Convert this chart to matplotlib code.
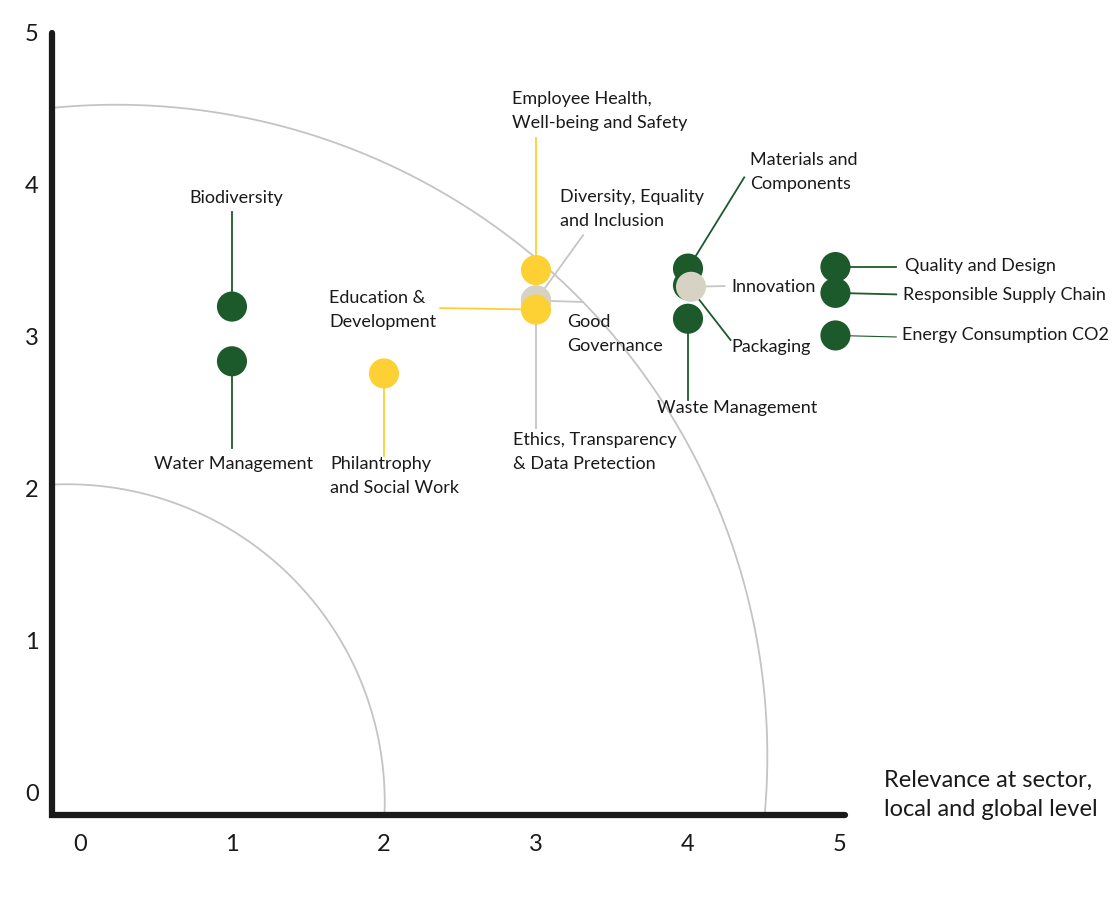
import numpy as np
import matplotlib.pyplot as plt

plt.rcParams['font.family'] = ['Lato', 'DejaVu Sans']

# topics: relevance (x), importance (y), group colour
topics = ['Biodiversity', 'Water Management', 'Philantrophy\nand Social Work',
          'Employee Health,\nWell-being and Safety', 'Diversity, Equality\nand Inclusion',
          'Good\nGovernance', 'Ethics, Transparency\n& Data Pretection',
          'Education &\nDevelopment', 'Materials and\nComponents', 'Packaging',
          'Innovation', 'Waste Management', 'Quality and Design',
          'Responsible Supply Chain', 'Energy Consumption CO2']
x_vals = [1.0, 1.0, 2.0, 3.0, 3.0, 3.0, 3.0, 3.0, 4.0, 4.0, 4.02, 4.0, 4.97, 4.97, 4.97]
y_vals = [3.20, 2.84, 2.76, 3.44, 3.24, 3.24, 3.24, 3.18, 3.45, 3.34, 3.33, 3.12, 3.46, 3.29, 3.01]
groups = ['env', 'env', 'soc', 'soc', 'gov', 'gov', 'gov', 'soc', 'env', 'env',
          'gov', 'env', 'env', 'env', 'env']

x_ticks = [0, 1, 2, 3, 4, 5]
y_ticks = [0, 1, 2, 3, 4, 5]
x_title = 'Relevance at sector,\nlocal and global level'

colors = {'env': '#1c5a2c', 'soc': '#fdd034', 'gov': '#d6d3c4'}
line_colors = {'env': '#1c5a2c', 'soc': '#fdd034', 'gov': '#c6c6c6'}

# leader line ends and label anchors (layout)
line_end = [(1.0, 3.82), (1.0, 2.27), (2.0, 2.22), (3.0, 4.31), (3.31, 3.67),
            (3.31, 3.23), (3.0, 2.40), (2.37, 3.19), (4.37, 4.05), (4.28, 2.98),
            (4.24, 3.335), (4.0, 2.585), (5.37, 3.46), (5.37, 3.28), (5.37, 3.0)]
label_pos = [(1.026, 3.914, 'center'), (1.013, 2.164, 'center'), (1.645, 2.085, 'left'),
             (2.842, 4.487, 'left'), (3.158, 3.842, 'left'), (3.204, 3.02, 'left'),
             (2.849, 2.243, 'left'), (1.638, 3.178, 'left'), (4.408, 4.086, 'left'),
             (4.283, 2.934, 'left'), (4.283, 3.329, 'left'), (3.796, 2.533, 'left'),
             (5.428, 3.467, 'left'), (5.414, 3.276, 'left'), (5.408, 3.013, 'left')]

fig = plt.figure(figsize=(11.2, 9.08), dpi=100)
ax = fig.add_axes([0, 0, 1, 1])
ax.set_xlim(-0.526, 6.842)
ax.set_ylim(-0.757, 5.217)
ax.axis('off')

# corner of the axes lines
x0, y0 = -0.184, -0.145

# quarter arcs
t = np.linspace(-0.5, 2.2, 2000)
for cx, cy, r in [(-0.085, -0.059, 2.09), (0.237, 0.243, 4.285)]:
    ax_ = cx + r * np.cos(t)
    ay_ = cy + r * np.sin(t)
    keep = (ax_ >= x0) & (ay_ >= y0)
    ax.plot(ax_[keep], ay_[keep], color='#c4c4c4', lw=1.3, zorder=1)

# axis lines
ax.plot([5.03, x0, x0], [y0, y0, 5.0], color='#1a1a1a', lw=4.5,
        solid_capstyle='round', solid_joinstyle='miter', zorder=2)

for v in x_ticks:
    ax.text(v, -0.342, str(v), ha='center', va='center', fontsize=17, color='#1a1a1a')
for v in y_ticks:
    ax.text(-0.316, v - 0.01, str(v), ha='center', va='center', fontsize=17, color='#1a1a1a')

ax.text(5.289, -0.013, x_title, ha='left', va='center', fontsize=17,
        color='#1a1a1a', linespacing=1.5)

# leader lines
for i in range(len(topics)):
    lw = 1.3 if topics[i] != 'Energy Consumption CO2' else 0.8
    ax.plot([x_vals[i], line_end[i][0]], [y_vals[i], line_end[i][1]],
            color=line_colors[groups[i]], lw=lw, zorder=3)

# markers (order so overlaps look like the original)
order = [0, 1, 2, 3, 4, 5, 6, 7, 8, 9, 11, 10, 12, 13, 14]
for i in order:
    ax.scatter(x_vals[i], y_vals[i], s=470, color=colors[groups[i]],
               edgecolors='none', zorder=4 + order.index(i) * 0.01)

for i in range(len(topics)):
    lx, ly, ha = label_pos[i]
    ax.text(lx, ly, topics[i], ha=ha, va='center', fontsize=13,
            color='#1a1a1a', linespacing=1.6)

plt.savefig('out.png', dpi=100)
plt.close()
